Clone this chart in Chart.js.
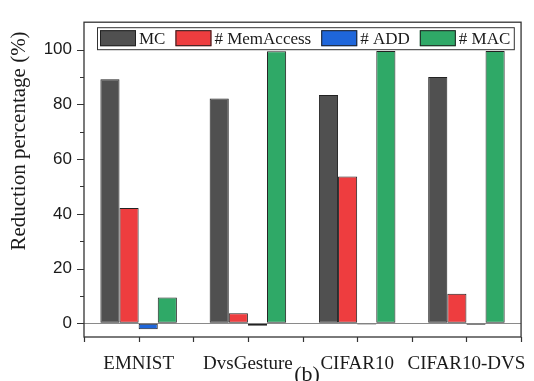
<!DOCTYPE html>
<html>
<head>
<meta charset="utf-8">
<script src="https://cdn.jsdelivr.net/npm/chart.js@4.4.1/dist/chart.umd.min.js"></script>
<style>
    html, body { margin: 0; padding: 0; background: #fff; }
    #wrap { width: 534px; height: 381px; position: relative; }
</style>
</head>
<body>
<div id="wrap"><canvas id="ctx_reduction"></canvas></div>
<script>
const categories = ['EMNIST', 'DvsGesture', 'CIFAR10', 'CIFAR10-DVS'];
const mc = [89.2, 82.1, 83.4, 90.0];
const memAccess = [42.1, 3.7, 53.6, 10.8];
const add = [-2.2, -0.9, -0.4, -0.5];
const mac = [9.4, 99.4, 99.5, 99.5];
const yMajorTicks = [0, 20, 40, 60, 80, 100];
const yMinorTicks = [10, 30, 50, 70, 90];

const serif = '"Liberation Serif", "Times New Roman", serif';
const sans = '"Liberation Sans", Arial, sans-serif';
const frameColor = '#333';

// box, ticks, legend and text labels in the style of the original plot
const decorations = {
    id: 'decorations',
    afterDraw(chart) {
        const ctx = chart.ctx;
        const area = chart.chartArea;
        const x = chart.scales.x;
        const y = chart.scales.y;
        ctx.save();

        // frame around the plot
        ctx.strokeStyle = frameColor;
        ctx.lineWidth = 1.3;
        ctx.strokeRect(area.left, area.top, area.right - area.left, area.bottom - area.top);

        // y ticks, outward
        ctx.lineWidth = 1.2;
        ctx.beginPath();
        yMajorTicks.forEach(v => {
            const py = Math.round(y.getPixelForValue(v)) + 0.5;
            ctx.moveTo(area.left - 7, py);
            ctx.lineTo(area.left, py);
        });
        yMinorTicks.forEach(v => {
            const py = Math.round(y.getPixelForValue(v)) + 0.5;
            ctx.moveTo(area.left - 4, py);
            ctx.lineTo(area.left, py);
        });
        // x ticks at category centres and between categories
        const half = (x.getPixelForTick(1) - x.getPixelForTick(0)) / 2;
        categories.forEach((c, i) => {
            const px = x.getPixelForTick(i);
            [px - half, px, px + half].forEach(p => {
                const q = Math.round(p) + 0.5;
                ctx.moveTo(q, area.bottom);
                ctx.lineTo(q, area.bottom + 5);
            });
        });
        ctx.stroke();

        // legend in a box
        ctx.font = '17px ' + serif;
        ctx.textBaseline = 'alphabetic';
        ctx.textAlign = 'left';
        let lx = area.left + 16;
        const ly = area.top + 8;
        chart.data.datasets.forEach((ds, i) => {
            ctx.fillStyle = ds.backgroundColor;
            ctx.fillRect(lx, ly, 36, 16);
            ctx.strokeStyle = '#222';
            ctx.lineWidth = 1;
            ctx.strokeRect(lx + 0.5, ly + 0.5, 35, 15);
            lx += 39;
            ctx.fillStyle = '#1a1a1a';
            ctx.fillText(ds.label, lx, ly + 14);
            lx += ctx.measureText(ds.label).width + 10;
        });
        ctx.strokeStyle = frameColor;
        ctx.lineWidth = 1;
        ctx.strokeRect(area.left + 13.5, area.top + 5.5, lx - 10 + 4 - (area.left + 13.5), 22);

        // y axis title
        ctx.save();
        ctx.translate(19, 141);
        ctx.rotate(-Math.PI / 2);
        ctx.font = '21px ' + serif;
        ctx.textAlign = 'center';
        ctx.textBaseline = 'middle';
        ctx.fillStyle = '#1a1a1a';
        ctx.fillText('Reduction percentage (%)', 0, 0);
        ctx.restore();

        // panel tag
        ctx.font = '22px ' + serif;
        ctx.textAlign = 'center';
        ctx.fillStyle = '#1a1a1a';
        ctx.fillText('(b)', 307, 381);

        ctx.restore();
    }
};

new Chart(document.getElementById('ctx_reduction'), {
    type: 'bar',
    data: {
        labels: categories,
        datasets: [{
            label: 'MC',
            data: mc,
            backgroundColor: '#505050',
        }, {
            label: '# MemAccess',
            data: memAccess,
            backgroundColor: '#ee3d3f',
        }, {
            label: '# ADD',
            data: add,
            backgroundColor: '#1e66db',
        }, {
            label: '# MAC',
            data: mac,
            backgroundColor: '#2fa967',
        }]
    },
    options: {
        responsive: true,
        maintainAspectRatio: false,
        animation: false,
        layout: {
            padding: { left: 0, top: 8, right: 5, bottom: 0 }
        },
        datasets: {
            bar: {
                borderColor: '#222',
                borderWidth: 1,
                borderSkipped: false,
                categoryPercentage: 0.7,
                barPercentage: 1.0
            }
        },
        scales: {
            x: {
                grid: { display: false },
                border: { display: false },
                ticks: {
                    color: '#1a1a1a',
                    font: { family: serif, size: 19 },
                    padding: 8,
                    maxRotation: 0,
                    autoSkip: false
                },
                afterFit(scale) { scale.height = 44; }
            },
            y: {
                min: -5,
                max: 110,
                grid: {
                    drawTicks: false,
                    lineWidth: 1,
                    color: c => (c.tick && c.tick.value === 0) ? '#8a8a8a' : 'transparent'
                },
                border: { display: false },
                ticks: {
                    stepSize: 10,
                    includeBounds: false,
                    autoSkip: false,
                    padding: 12,
                    color: '#1a1a1a',
                    font: { family: sans, size: 17 },
                    callback: v => (v >= 0 && v <= 100 && v % 20 === 0) ? String(v) : ''
                },
                afterFit(scale) { scale.width = 84; }
            }
        },
        plugins: {
            legend: { display: false },
            tooltip: { enabled: false }
        }
    },
    plugins: [decorations]
});
</script>
</body>
</html>
